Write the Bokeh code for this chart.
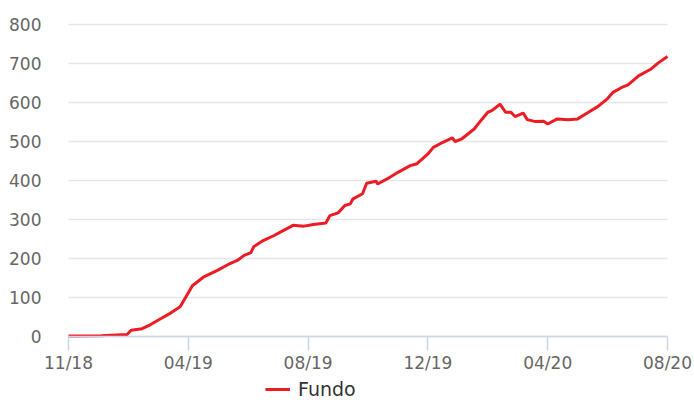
from bokeh.plotting import figure
from bokeh.models import Range1d, FixedTicker, Legend, LegendItem
from bokeh.embed import file_html
from bokeh.resources import INLINE

# trading-day index and fund value
day_index = [0, 24, 43, 46, 54, 60, 68, 75, 82, 86, 91, 99, 109, 117, 124, 129,
             134, 136, 143, 151, 158, 165, 173, 180, 189, 192, 198, 203, 207, 209,
             216, 219, 226, 227, 234, 242, 251, 256, 264, 268, 275, 282, 284, 289,
             298, 303, 308, 311, 317, 321, 325, 328, 334, 337, 343, 349, 352, 359,
             367, 374, 381, 389, 396, 400, 406, 411, 419, 428, 433, 440]
fundo = [1, 2, 5, 16, 20, 30, 46, 60, 76, 100, 130, 152, 169, 184, 195, 208,
         215, 230, 246, 259, 272, 285, 283, 287, 291, 310, 317, 336, 340, 353,
         366, 393, 398, 391, 404, 421, 438, 443, 468, 485, 498, 509, 500, 507,
         532, 554, 575, 579, 596, 575, 575, 564, 573, 556, 551, 552, 545, 558,
         556, 558, 573, 590, 610, 626, 638, 645, 669, 686, 701, 718]

tick_positions = [0, 88, 176, 264, 352, 440]
tick_labels = ["11/18", "04/19", "08/19", "12/19", "04/20", "08/20"]
y_ticks = [0, 100, 200, 300, 400, 500, 600, 700, 800]

W, H = 694, 403
# plot area in pixels (left, right, top of 800, axis at 0)
PL, PR, PT, PB = 68, 667, 24, 336
x0, x1 = tick_positions[0], tick_positions[-1]
y0, y1 = y_ticks[0], y_ticks[-1]
xs = (x1 - x0) / (PR - PL)
ys = (y1 - y0) / (PB - PT)

p = figure(width=W, height=H, output_backend="svg", toolbar_location=None,
           x_range=Range1d(x0 - PL * xs, x1 + (W - PR) * xs),
           y_range=Range1d(y0 - (H - PB) * ys, y1 + PT * ys),
           min_border_left=0, min_border_right=0, min_border_top=0,
           min_border_bottom=0)
p.outline_line_color = None
p.background_fill_color = "white"
p.border_fill_color = "white"
p.xgrid.grid_line_color = None
p.ygrid.grid_line_color = None

# horizontal grid lines across the plot area
p.segment(x0=[x0] * len(y_ticks), y0=y_ticks, x1=[x1] * len(y_ticks), y1=y_ticks,
          line_color="#e6e6e6", line_width=1.3)

r = p.line(day_index, fundo, line_color="#ec1c24", line_width=3)

# x axis
xa = p.xaxis[0]
xa.fixed_location = y0
xa.bounds = (x0, x1)
xa.ticker = FixedTicker(ticks=tick_positions)
xa.major_label_overrides = {t: l for t, l in zip(tick_positions, tick_labels)}
xa.axis_line_color = "#ccd6eb"
xa.axis_line_width = 1.5
xa.major_tick_line_color = "#ccd6eb"
xa.major_tick_line_width = 1.5
xa.major_tick_out = 14
xa.major_tick_in = 0
xa.minor_tick_line_color = None
xa.major_label_text_font = "DejaVu Sans"
xa.major_label_text_font_size = "17px"
xa.major_label_text_color = "#666666"
xa.major_label_standoff = 2

# y axis
ya = p.yaxis[0]
ya.fixed_location = x0
ya.ticker = FixedTicker(ticks=y_ticks)
ya.axis_line_color = None
ya.major_tick_line_color = None
ya.minor_tick_line_color = None
ya.major_label_text_font = "DejaVu Sans"
ya.major_label_text_font_size = "17px"
ya.major_label_text_color = "#666666"
ya.major_label_standoff = 21

legend = Legend(items=[LegendItem(label="Fundo", renderers=[r])],
                location=(265, 3), orientation="horizontal",
                glyph_width=25, glyph_height=20, label_standoff=8,
                label_text_font="DejaVu Sans", label_text_font_size="19px",
                label_text_color="#333333", padding=0, margin=0,
                border_line_color=None, background_fill_alpha=0)
p.add_layout(legend, "center")

open("out.html", "w").write(file_html(p, INLINE))
